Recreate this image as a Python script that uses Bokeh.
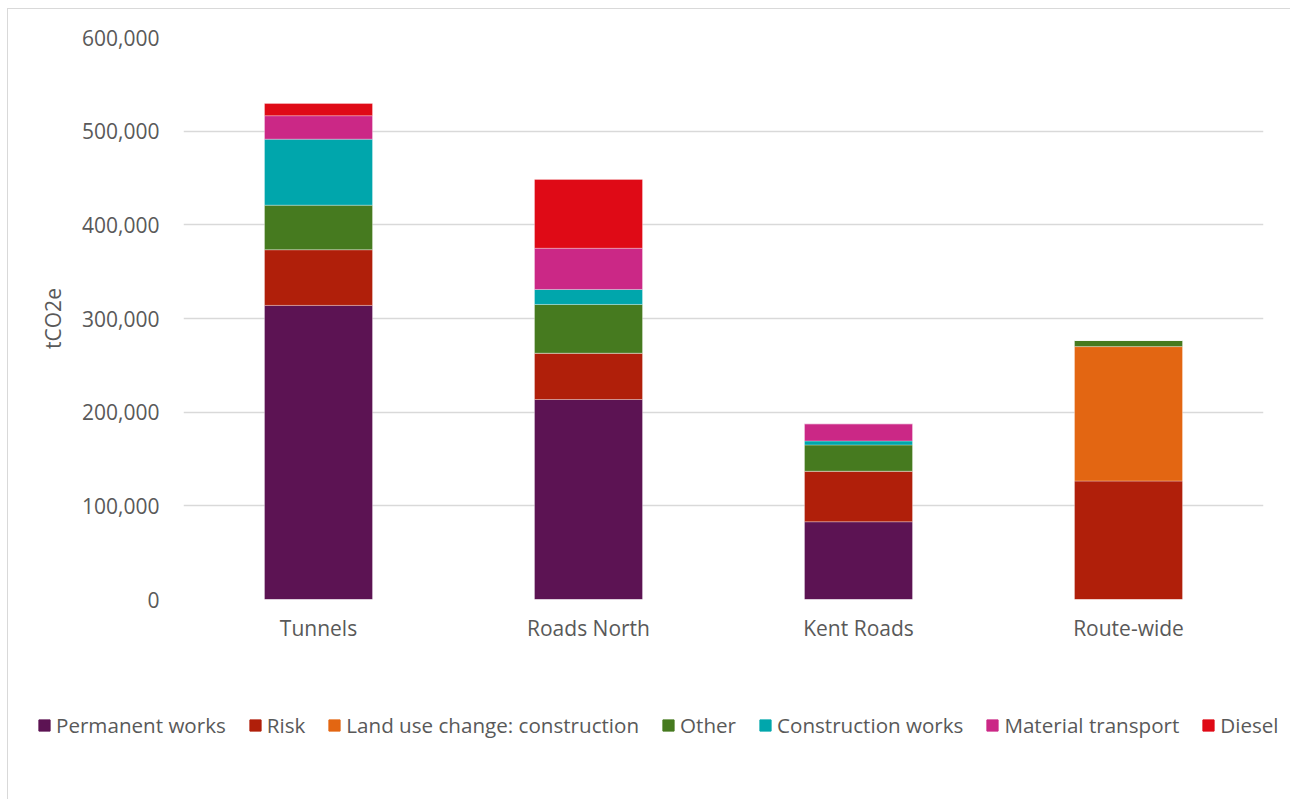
from bokeh.plotting import figure
from bokeh.layouts import column
from bokeh.models import ColumnDataSource, Legend, LegendItem, NumeralTickFormatter, Range1d, FactorRange
from bokeh.embed import file_html
from bokeh.resources import INLINE

categories = ["Tunnels", "Roads North", "Kent Roads", "Route-wide"]
series_names = ["Permanent works", "Risk", "Land use change: construction", "Other",
                "Construction works", "Material transport", "Diesel"]
permanent = [314000, 213500, 83000, 0]
risk = [59500, 49500, 54000, 126500]
land_use = [0, 0, 0, 143500]
other = [47500, 52000, 28000, 6500]
construction = [70500, 16000, 4300, 0]
material = [25000, 44000, 18300, 0]
diesel = [13000, 73500, 0, 0]
colors = ["#5C1353", "#B01F0A", "#E36612", "#467A1F", "#00A6AC", "#CB2886", "#DF0A16"]
y_ticks = [0, 100000, 200000, 300000, 400000, 500000, 600000]

FONT = "Open Sans"
TXT = "#595959"

keys = ["permanent", "risk", "land_use", "other", "construction", "material", "diesel"]
source = ColumnDataSource(dict(cat=categories, permanent=permanent, risk=risk, land_use=land_use,
                               other=other, construction=construction, material=material,
                               diesel=diesel))

W = 1282
p = figure(width=W, height=671, output_backend="svg", toolbar_location=None,
           x_range=FactorRange(*categories, range_padding=0), y_range=Range1d(0, 600000),
           min_border_left=175, min_border_right=27, min_border_top=28, min_border_bottom=81)
p.frame_align = False
p.outline_line_color = None
p.background_fill_color = "white"
p.border_fill_color = "white"

renderers = p.vbar_stack(keys, x="cat", width=0.4, source=source, color=colors,
                         line_color="white", line_width=0.6, line_alpha=0.5)

p.yaxis.ticker = y_ticks
p.yaxis.formatter = NumeralTickFormatter(format="0,0")
for ax in (p.xaxis[0], p.yaxis[0]):
    ax.axis_line_color = None
    ax.major_tick_line_color = None
    ax.minor_tick_line_color = None
    ax.major_tick_out = 0
    ax.major_tick_in = 0
    ax.major_label_text_font = FONT
    ax.major_label_text_font_size = "21px"
    ax.major_label_text_color = TXT
p.yaxis.major_label_standoff = 24
p.xaxis.major_label_standoff = 14
p.yaxis.axis_label = "tCO2e"
p.yaxis.axis_label_text_font = FONT
p.yaxis.axis_label_text_font_size = "21px"
p.yaxis.axis_label_text_font_style = "normal"
p.yaxis.axis_label_text_color = TXT
p.yaxis.axis_label_standoff = 12

p.xgrid.grid_line_color = None
p.ygrid.grid_line_color = "#d9d9d9"
p.ygrid.grid_line_width = 1.3

# legend strip: a second figure with hidden copies of the series (used only for the legend swatches)
LH = 119
pl = figure(width=W, height=LH, output_backend="svg", toolbar_location=None,
            x_range=FactorRange(*categories, range_padding=0), y_range=Range1d(-2, -1),
            x_axis_type=None, y_axis_type=None, min_border=0)
pl.frame_align = False
pl.outline_line_color = None
pl.grid.grid_line_color = None
pl.background_fill_color = "white"
pl.border_fill_color = "white"
legend_renderers = pl.vbar_stack(keys, x="cat", width=0.4, source=source, color=colors)
for r in legend_renderers:
    r.visible = False
items = [LegendItem(label=n, renderers=[r]) for n, r in zip(series_names, legend_renderers)]
legend = Legend(items=items, orientation="horizontal", location=(29, LH - 59),
                glyph_width=14, glyph_height=14, label_standoff=5, spacing=22,
                padding=0, margin=0, border_line_color=None, background_fill_alpha=0,
                label_text_font=FONT, label_text_font_size="20.6px", label_text_color=TXT)
pl.add_layout(legend)

layout = column(p, pl, spacing=0)
layout.styles = {"border-left": "1px solid #d9d9d9", "border-top": "1px solid #d9d9d9",
                 "margin-left": "7px", "margin-top": "8px"}

open("out.html", "w").write(file_html(layout, INLINE))
